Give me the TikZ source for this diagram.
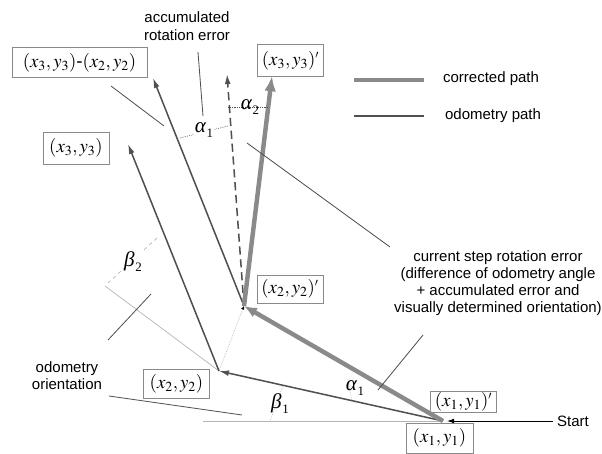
\documentclass[tikz,border=0pt]{standalone}
\usepackage{mathptmx}
\usepackage[no-math]{fontspec}
\setmainfont{Liberation Sans}
\newfontfamily\timesfont{Liberation Serif}
\usetikzlibrary{arrows.meta,positioning}
\definecolor{odogray}{HTML}{505050}
\definecolor{corgray}{HTML}{8A8A8A}
\definecolor{markgray}{HTML}{B4B4B4}
\newcommand{\anglab}[2]{{\timesfont\itshape #1}\kern0.6pt\raisebox{-0.45ex}{\timesfont\fontsize{11}{11}\selectfont #2}}
\begin{document}
\begin{tikzpicture}[x=0.03cm,y=-0.03cm,
  every node/.style={font=\fontsize{12.8}{15}\selectfont},
  posbox/.style={draw=corgray,line width=0.6pt,inner sep=2pt,minimum width=1.98cm,minimum height=0.9cm,font=\fontsize{16}{18}\selectfont},
  odo/.style={line width=1.3pt,odogray,-{Latex[length=8.5pt,width=5pt]}},
  cor/.style={line width=3.8pt,corgray},
  pointer/.style={line width=0.7pt,odogray},
  anglbl/.style={font=\fontsize{18}{18}\selectfont,inner sep=0.5pt,fill=white}]
\useasboundingbox (0,0) rectangle (602,454);
% path corners
\coordinate (p1) at (443,421);
\coordinate (p2) at (219,371);
\coordinate (p3) at (128,144);
\coordinate (p2c) at (244,306);
\coordinate (q3) at (153,78);
\coordinate (d3) at (227,74);
\coordinate (c3) at (272,76);
% reference lines
\coordinate (h0) at (203,421);
\coordinate (o0) at (105,286);
\draw[markgray,line width=0.6pt] (h0) -- (p1);
\draw[markgray,line width=0.6pt] (o0) -- (p2);
\draw[markgray,densely dotted,line width=0.6pt,-{Latex[length=3pt,width=3pt,black]}] (p2) -- (p2c);
% odometry path
\draw[odo] (p1) -- (p2);
\draw[odo] (p2) -- (p3);
\draw[odo] (p2c) -- (q3);
\draw[odo,dash pattern=on 7pt off 4pt] (p2c) -- (d3);
% corrected path
\draw[cor,-{Latex[length=11pt,width=9pt]}] (p1) -- (p2c);
\draw[cor,-{Latex[length=13pt,width=10pt]}] (p2c) -- (c3);
% position boxes
\node[posbox,minimum width=4.05cm] (b32) at (79.5,62.5) {$(x_3, y_3)$-$(x_2, y_2)$};
\node[posbox,minimum height=0.95cm] (b3c) at (290.5,60.5) {$(x_3, y_3)^{\scriptscriptstyle\prime}$};
\node[posbox,minimum height=0.96cm] (b3) at (76,148) {$(x_3, y_3)$};
\node[posbox,minimum height=0.84cm] (b2c) at (290,289) {$(x_2, y_2)^{\scriptscriptstyle\prime}$};
\node[posbox,minimum height=0.87cm] (b2) at (176.5,383.5) {$(x_2, y_2)$};
\node[posbox,minimum height=0.63cm,inner sep=1pt] (b1c) at (463.5,401.5) {$(x_1, y_1)^{\scriptscriptstyle\prime}$};
\node[posbox,minimum width=2.01cm] (b1) at (439.5,438) {$(x_1, y_1)$};
% angle marks
\coordinate (a1ta) at (180,138); \coordinate (a1tb) at (228,126);
\coordinate (a2ta) at (228,107); \coordinate (a2tb) at (268,107);
\coordinate (a1ba) at (348,379); \coordinate (a1bb) at (352,402);
\coordinate (b1a) at (283,386); \coordinate (b1b) at (270,421);
\coordinate (b2a) at (157,238); \coordinate (b2b) at (108,283);
\draw[odogray,densely dotted,line width=0.6pt] (a1ta) -- (a1tb);
\draw[odogray,densely dotted,line width=0.6pt] (a2ta) -- (a2tb);
\draw[markgray,densely dotted,line width=0.6pt] (a1ba) -- (a1bb);
\draw[markgray,densely dotted,line width=0.6pt] (b1a) -- (b1b);
\draw[markgray,dashed,line width=0.6pt] (b2a) -- (b2b);
\node[anglbl] (al1t) at (204,130) {\anglab{α}{1}};
\node[anglbl,fill=none] (al2t) at (250,107) {\anglab{α}{2}};
\node[anglbl,fill=none] (al1b) at (355,388) {\anglab{α}{1}};
\node[anglbl,fill=none] (be1) at (280,404) {\anglab{β}{1}};
\node[anglbl] (be2) at (133,262) {\anglab{β}{2}};
% labels
\node[align=center] (accum) at (187,26) {accumulated\\rotation error};
\node[align=center,font=\fontsize{12.8}{14.3}\selectfont] (curr) at (498,283) {current step rotation error\\(difference of odometry angle\\+ accumulated error and\\visually determined orientation)};
\node[align=center,font=\fontsize{12.8}{14.5}\selectfont] (odoor) at (67,376) {odometry\\orientation};
\node[anchor=west] (start) at (553,421) {Start};
\coordinate (startend) at (447,421);
\draw[line width=0.7pt,-{Latex[length=6pt,width=4pt]}] (start.west) -- (startend);
% pointers
\coordinate (ptaa) at (198,52); \coordinate (ptab) at (203,116);
\coordinate (ptba) at (111,86); \coordinate (ptbb) at (164,126);
\coordinate (ptca) at (247,143); \coordinate (ptcb) at (390,247);
\coordinate (ptda) at (423,335); \coordinate (ptdb) at (378,390);
\coordinate (ptea) at (151,294); \coordinate (pteb) at (108,340);
\coordinate (ptfa) at (109,396); \coordinate (ptfb) at (242,415);
\draw[pointer] (ptaa) -- (ptab);
\draw[pointer] (ptba) -- (ptbb);
\draw[pointer] (ptca) -- (ptcb);
\draw[pointer] (ptda) -- (ptdb);
\draw[pointer] (ptea) -- (pteb);
\draw[pointer] (ptfa) -- (ptfb);
% legend
\coordinate (lga) at (354,80); \coordinate (lgb) at (424,80);
\coordinate (lgc) at (354,116); \coordinate (lgd) at (424,116);
\draw[cor,line width=3.4pt] (lga) -- (lgb);
\draw[line width=1.3pt,odogray] (lgc) -- (lgd);
\node[anchor=west] (lgcor) at (439,79) {corrected path};
\node[anchor=west] (lgodo) at (441,116) {odometry path};
\end{tikzpicture}
\end{document}
